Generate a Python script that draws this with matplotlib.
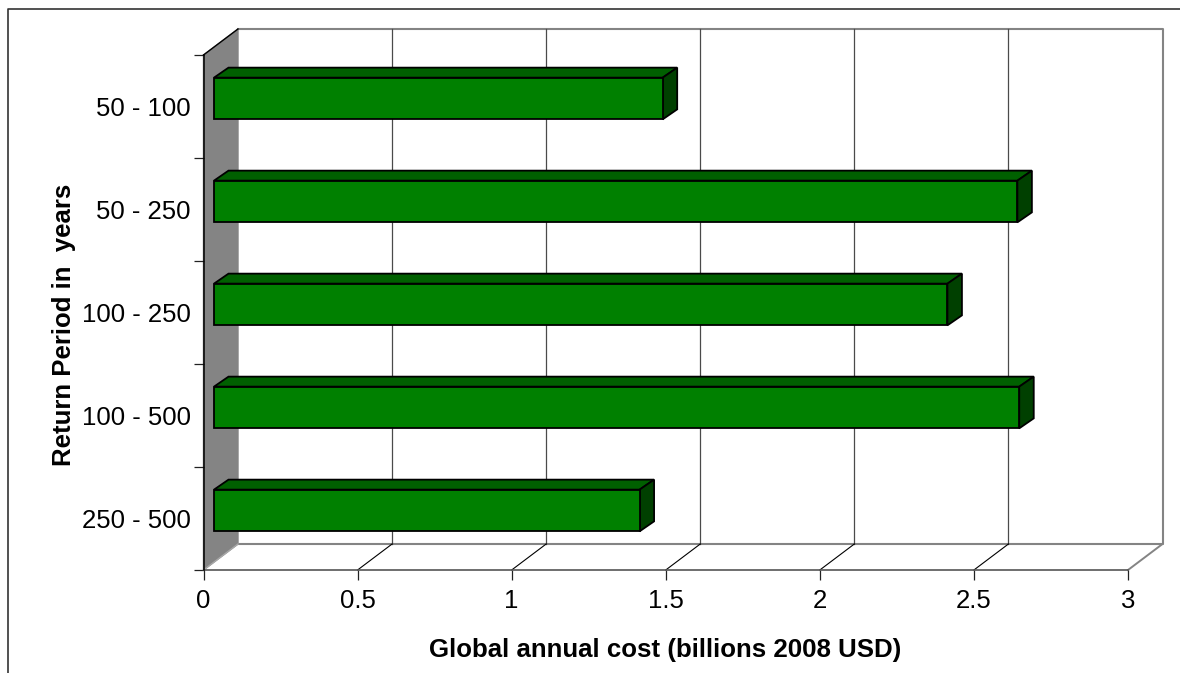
import matplotlib
matplotlib.use("Agg")
import matplotlib.pyplot as plt
from matplotlib.patches import Polygon
from matplotlib.transforms import Affine2D

categories = ["250 - 500", "100 - 500", "100 - 250", "50 - 250", "50 - 100"]
values = [1.381, 2.613, 2.38, 2.607, 1.456]
x_ticks = [0, 0.5, 1, 1.5, 2, 2.5, 3]
x_labels = ["0", "0.5", "1", "1.5", "2", "2.5", "3"]
x_title = "Global annual cost (billions 2008 USD)"
y_title = "Return Period in  years"

W, H = 1180, 673
plt.rcParams['font.family'] = ['Liberation Sans', 'DejaVu Sans']
fig = plt.figure(figsize=(W / 100, H / 100), dpi=100)
L, R, T, B = 203.5, 1128, 55, 570
ax = fig.add_axes([L / W, 1 - B / H, (R - L) / W, (B - T) / H])
ax.set_xlim(0, 3)
ax.set_ylim(0, 5)
ax.patch.set_visible(False)
for s in ax.spines.values():
    s.set_visible(False)

DX, DY = 34.5, 26
GREY = "#848484"
GREEN = "#008000"
TOP = "#006000"
SIDE = "#004000"
inv = ax.transData.inverted()
def off(dx, dy):
    return ax.transData + Affine2D().translate(dx, dy)
def shifted(p, dx, dy):
    a = ax.transData.transform(p)
    return inv.transform((a[0] + dx, a[1] + dy))
back = off(DX, DY)

# side wall
w0, w1 = shifted((0, 0), DX, DY), shifted((0, 5), DX, DY)
ax.add_patch(Polygon([(0, 0), (0, 5), w1, w0], closed=True, fc=GREY, ec=GREY, lw=1,
                     zorder=1, clip_on=False))
ax.plot([0, w1[0]], [5, w1[1]], color="k", lw=1, zorder=2, clip_on=False)

# back wall frame and gridlines
ax.plot([0, 3, 3, 0], [5, 5, 0, 0], color=GREY, lw=1.5, transform=back, zorder=1, clip_on=False)
for t in x_ticks[1:-1]:
    ax.plot([t, t], [0, 5], color="#4a4a4a", lw=0.9, transform=back, zorder=1.5, clip_on=False)
# floor
ax.plot([0, 3], [0, 0], color="#555555", lw=1.2, zorder=3, clip_on=False)
for t in x_ticks[1:-1]:
    b = shifted((t, 0), DX, DY)
    ax.plot([t, b[0]], [0, b[1]], color="k", lw=0.8, zorder=1.5, clip_on=False)
b = shifted((3, 0), DX, DY)
ax.plot([3, b[0]], [0, b[1]], color=GREY, lw=1.4, zorder=1.5, clip_on=False)
b = shifted((0, 0), DX, DY)
ax.plot([0, b[0]], [0, b[1]], color="#a8a8a8", lw=1, zorder=2, clip_on=False)

# bars
FX, FY = 10.5, 8
BX, BY = 14.5, 10
front = off(FX, FY)
h = 0.405
for i, v in enumerate(values):
    y0 = i + 0.5 - h / 2
    y1 = i + 0.5 + h / 2
    ax.add_patch(Polygon([(0, y0), (v, y0), (v, y1), (0, y1)], closed=True, fc=GREEN, ec="k",
                         lw=1.3, transform=front, zorder=6, clip_on=False))
    top = [shifted((0, y1), FX, FY), shifted((v, y1), FX, FY),
           shifted((v, y1), FX + BX, FY + BY), shifted((0, y1), FX + BX, FY + BY)]
    side = [shifted((v, y1), FX, FY), shifted((v, y0), FX, FY),
            shifted((v, y0), FX + BX, FY + BY), shifted((v, y1), FX + BX, FY + BY)]
    ax.add_patch(Polygon(top, closed=True, fc=TOP, ec="k", lw=1.3, zorder=5, clip_on=False))
    ax.add_patch(Polygon(side, closed=True, fc=SIDE, ec="k", lw=1.3, zorder=5, clip_on=False))

# ticks and labels
ax.set_xticks(x_ticks, x_labels, fontsize=18.5)
ax.set_yticks(range(6), [""] * 6)
ax.tick_params(axis="both", length=7, width=0.9, color="#222222", pad=7)
ax.spines["left"].set_visible(True)
ax.spines["left"].set_linewidth(1.1)
ax.spines["left"].set_zorder(7)
for i, c in enumerate(categories):
    ax.annotate(c, xy=(0, i + 0.5), xycoords="data", xytext=(-13, -2.5), textcoords="offset pixels",
                ha="right", va="center", fontsize=18.5, annotation_clip=False)

fig.text(665.5 / W, 1 - 650 / H, x_title, ha="center", va="center", fontsize=18.6, fontweight="bold")
fig.text(64.5 / W, 1 - 325 / H, y_title, ha="center", va="center", rotation=90, fontsize=18.5, fontweight="bold")

# outer frame
fig.add_artist(plt.Line2D([7.5 / W, 7.5 / W, 1], [0, 1 - 8.5 / H, 1 - 8.5 / H], color="#333333", lw=1.2))

fig.savefig("out.png", dpi=100)
